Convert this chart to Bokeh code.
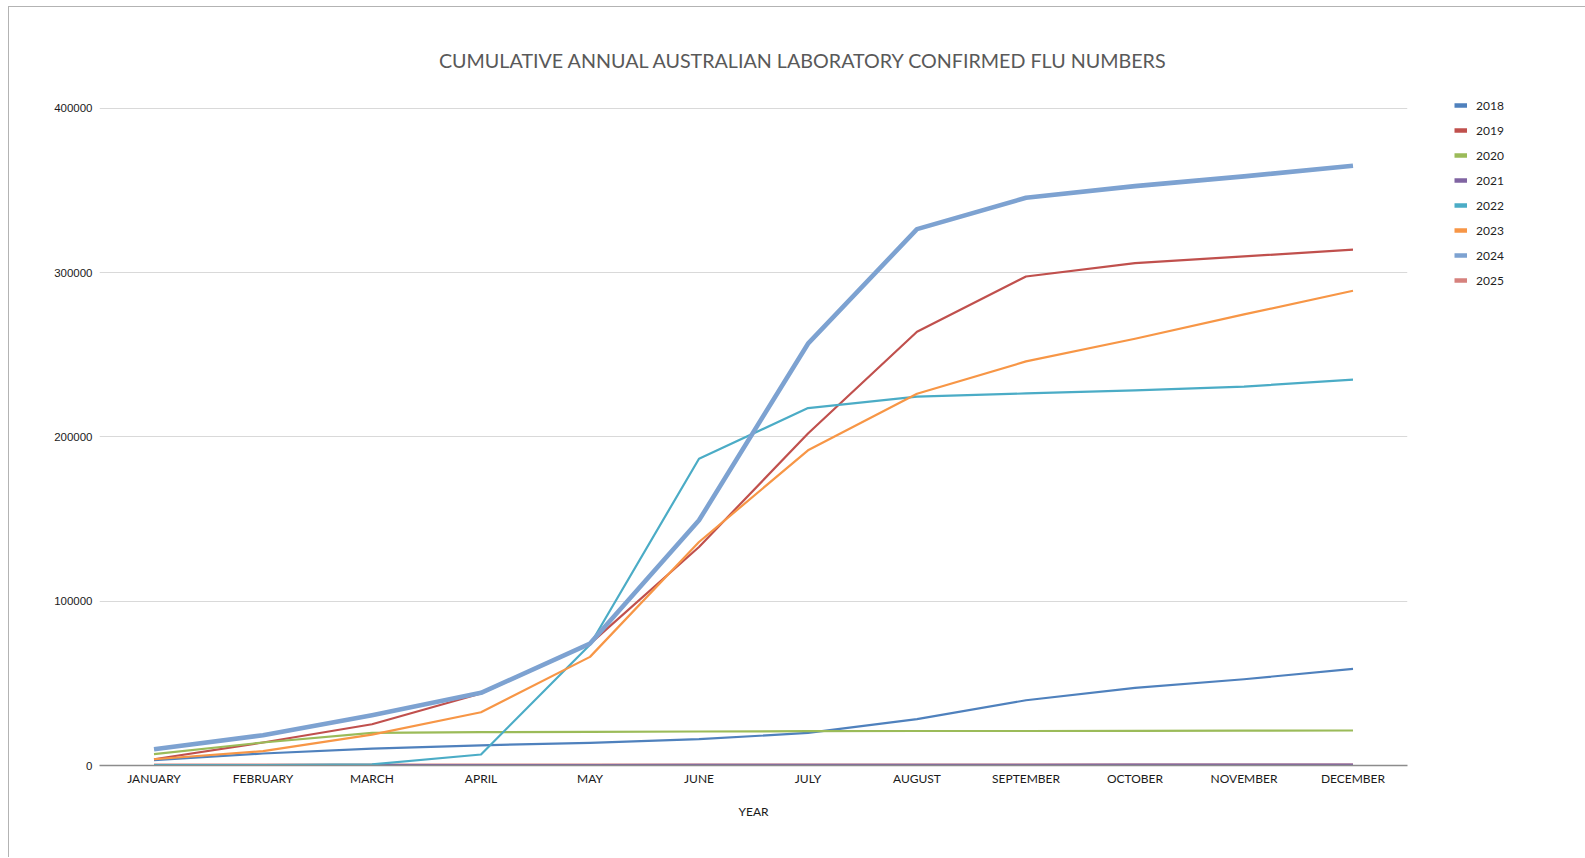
from bokeh.plotting import figure
from bokeh.models import (Legend, LegendItem, Label, Range1d, FactorRange,
                          NumeralTickFormatter, FixedTicker)
from bokeh.embed import file_html
from bokeh.resources import INLINE

months = ["JANUARY", "FEBRUARY", "MARCH", "APRIL", "MAY", "JUNE", "JULY",
          "AUGUST", "SEPTEMBER", "OCTOBER", "NOVEMBER", "DECEMBER"]
years = ["2018", "2019", "2020", "2021", "2022", "2023", "2024", "2025"]

s2018 = [3200, 7300, 10300, 12300, 13800, 16000, 19800, 28200, 39700, 47200, 52500, 58800]
s2019 = [3800, 14000, 25100, 43800, 74000, 133000, 202000, 264000, 297600, 305700, 309800, 313900]
s2020 = [6900, 14000, 19800, 20300, 20500, 20700, 20900, 21000, 21000, 21100, 21200, 21300]
s2021 = [60, 120, 180, 240, 290, 340, 390, 430, 470, 510, 550, 600]
s2022 = [200, 300, 700, 6700, 73500, 186700, 217500, 224500, 226400, 228300, 230600, 234800]
s2023 = [3800, 8700, 18800, 32400, 66100, 136000, 191800, 226200, 245900, 259700, 274500, 288900]
s2024 = [9900, 18400, 30600, 44200, 74200, 149200, 256700, 326400, 345500, 352600, 358500, 365000]
s2025 = [600, 600, 600, 600, 600, 600, 600, 600, 600, 600, 600, 600]

series = {"2018": s2018, "2019": s2019, "2020": s2020, "2021": s2021,
          "2022": s2022, "2023": s2023, "2024": s2024, "2025": s2025}
colors = {"2018": "#4F81BD", "2019": "#C0504D", "2020": "#9BBB59", "2021": "#8064A2",
          "2022": "#4BACC6", "2023": "#F79646", "2024": "#7DA2D1", "2025": "#D6817D"}
widths = {y: 2.2 for y in years}
widths["2024"] = 4.6

title_text = "CUMULATIVE ANNUAL AUSTRALIAN LABORATORY CONFIRMED FLU NUMBERS"
y_ticks = [0, 100000, 200000, 300000, 400000]
y_top_tick = 400000

# canvas layout (pixels)
W, H = 1576, 850
FL, FR, FT, FB = 90, 1398, 41, 758
TICK_TOP_PX = 100.7          # where the 400000 gridline sits on the canvas
y_end = y_top_tick * (FB - FT) / (FB - TICK_TOP_PX)

p = figure(x_range=FactorRange(*months), y_range=Range1d(0, y_end),
           frame_width=FR - FL, frame_height=FB - FT,
           output_backend="svg", toolbar_location=None,
           min_border_left=FL, min_border_right=W - FR,
           min_border_top=FT, min_border_bottom=H - FB)
p.outline_line_color = None
p.background_fill_color = "white"
p.border_fill_color = "white"
p.styles = {"border-left": "1px solid #b3b3b3", "border-top": "1px solid #b3b3b3",
            "margin-left": "8px", "margin-top": "6px"}

p.xgrid.grid_line_color = None
p.ygrid.grid_line_color = "#d9d9d9"
p.ygrid.grid_line_width = 1
p.ygrid.ticker = FixedTicker(ticks=y_ticks)

p.yaxis.ticker = FixedTicker(ticks=y_ticks)
p.yaxis.formatter = NumeralTickFormatter(format="0")
p.yaxis.axis_line_color = None
p.yaxis.major_tick_line_color = None
p.yaxis.minor_tick_line_color = None
p.yaxis.major_tick_out = 0
p.yaxis.major_tick_in = 0
p.yaxis.major_label_standoff = 7
p.yaxis.major_label_text_font = "Liberation Sans"
p.yaxis.major_label_text_font_size = "11.5px"
p.yaxis.major_label_text_color = "#1a1a1a"

p.xaxis.axis_line_color = "#8c8c8c"
p.xaxis.axis_line_width = 1.6
p.xaxis.major_tick_line_color = None
p.xaxis.minor_tick_line_color = None
p.xaxis.major_tick_out = 0
p.xaxis.major_tick_in = 0
p.xaxis.major_label_standoff = 5
p.xaxis.major_label_text_font = "Lato"
p.xaxis.major_label_text_font_size = "12px"
p.xaxis.major_label_text_color = "#1a1a1a"
p.xaxis.axis_label = "YEAR"
p.xaxis.axis_label_text_font = "Lato"
p.xaxis.axis_label_text_font_style = "normal"
p.xaxis.axis_label_text_font_size = "12px"
p.xaxis.axis_label_text_color = "#1a1a1a"
p.xaxis.axis_label_standoff = 15

draw_order = ["2018", "2019", "2020", "2025", "2021", "2022", "2023", "2024"]
for y in draw_order:
    p.line(months, series[y], line_color=colors[y], line_width=widths[y],
           line_join="round", line_cap="butt")

# legend swatches (one undrawn point each, so the swatch is shown)
items = []
for y in years:
    r = p.line(x=[months[0]], y=[float("nan")], line_color=colors[y], line_width=4.5)
    items.append(LegendItem(label=y, renderers=[r]))

legend = Legend(items=items, location="top_left", orientation="vertical",
                glyph_width=13, glyph_height=20, label_height=20, spacing=5,
                padding=0, margin=47, label_standoff=9,
                label_text_font="Lato", label_text_font_size="12px",
                label_text_color="#1f1f1f",
                background_fill_alpha=0, border_line_color=None)
p.add_layout(legend, "right")

# chart title, centred over the chart area
title_x = 6.46
title_y = y_top_tick * (FB - 53) / (FB - TICK_TOP_PX)
p.add_layout(Label(x=title_x, y=title_y, text=title_text,
                   text_align="center", text_baseline="middle",
                   text_font="Lato", text_font_size="19.7px",
                   text_color="#595959"))

open("out.html", "w").write(file_html(p, INLINE))
